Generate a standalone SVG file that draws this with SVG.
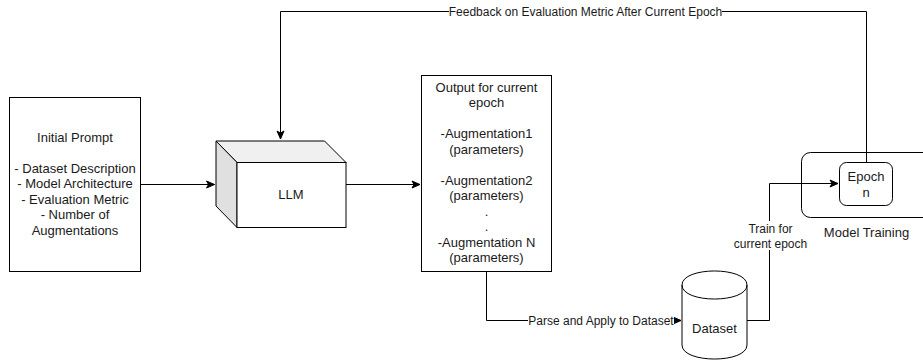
<svg xmlns="http://www.w3.org/2000/svg" width="923" height="360" viewBox="0 0 923 360">
<defs>
<marker id="arr" markerWidth="10" markerHeight="10" refX="9" refY="5" orient="auto" markerUnits="userSpaceOnUse">
<path d="M1,1.5 L9,5 L1,8.5 L3,5 Z" fill="#000" stroke="#000" stroke-width="1"/>
</marker>
</defs>
<style>
.box{fill:#fff;stroke:#000;stroke-width:1}
.t{font-family:"Liberation Sans",Arial,sans-serif;font-size:13px;fill:#1a1a1a;text-anchor:middle}
.l{font-family:"Liberation Sans",Arial,sans-serif;font-size:12px;fill:#1a1a1a;text-anchor:middle}
.c{fill:none;stroke:#000;stroke-width:1}
.bg{fill:#fff}
</style>
<rect width="923" height="360" fill="#fff"/>

<g id="model-training">
<rect class="box" x="801.5" y="152.5" width="135" height="65" rx="9"/>
<text class="t" x="866.5" y="236.5">Model Training</text>
</g>

<g id="connectors">
<path class="c" d="M866.5,162.5 V11.5 H280.5 V139" marker-end="url(#arr)"/>
<rect class="bg" x="449" y="4" width="273" height="14"/>
<text class="l" x="585.5" y="15.5">Feedback on Evaluation Metric After Current Epoch</text>
<path class="c" d="M140.5,184.5 H214.5" marker-end="url(#arr)"/>
<path class="c" d="M346,184.5 H420" marker-end="url(#arr)"/>
<path class="c" d="M486.5,271 V320.5 H681" marker-end="url(#arr)"/>
<rect class="bg" x="528" y="314" width="146" height="13"/>
<text class="l" x="601" y="324.5">Parse and Apply to Dataset</text>
<path class="c" d="M747,320.5 H769.5 V183.5 H838" marker-end="url(#arr)"/>
<rect class="bg" x="733" y="221" width="75" height="29"/>
<text class="l" x="770.5" y="232.5">Train for</text>
<text class="l" x="770.5" y="247.5">current epoch</text>
</g>

<g id="initial-prompt">
<rect class="box" x="9.5" y="97.5" width="131" height="174"/>
<text class="t" x="75" y="141.5">Initial Prompt</text>
<text class="t" x="75" y="172.5">- Dataset Description</text>
<text class="t" x="75" y="188">- Model Architecture</text>
<text class="t" x="75" y="203.5">- Evaluation Metric</text>
<text class="t" x="75" y="219">- Number of</text>
<text class="t" x="75" y="234.5">Augmentations</text>
</g>

<g id="llm">
<polygon points="216,141 324.5,141 346,162.5 237,162.5" fill="#f0f0f0" stroke="#000" stroke-width="1"/>
<polygon points="216,141 237,162.5 237,227.5 216,206" fill="#e0e0e0" stroke="#000" stroke-width="1"/>
<rect class="box" x="237" y="162.5" width="109" height="65"/>
<text class="t" x="291" y="198.5">LLM</text>
</g>

<g id="output">
<rect class="box" x="421.5" y="75.5" width="130" height="196"/>
<text class="t" x="486.5" y="91.5">Output for current</text>
<text class="t" x="486.5" y="107">epoch</text>
<text class="t" x="486.5" y="138">-Augmentation1</text>
<text class="t" x="486.5" y="153.5">(parameters)</text>
<text class="t" x="486.5" y="184.5">-Augmentation2</text>
<text class="t" x="486.5" y="200">(parameters)</text>
<text class="t" x="486.5" y="215.5">.</text>
<text class="t" x="486.5" y="231">.</text>
<text class="t" x="486.5" y="246.5">-Augmentation N</text>
<text class="t" x="486.5" y="262">(parameters)</text>
</g>

<g id="dataset">
<path class="box" d="M682,285 C682,266.3 747,266.3 747,285 V345 C747,363.7 682,363.7 682,345 Z"/>
<path class="c" d="M682,285 C682,303.7 747,303.7 747,285"/>
<text class="t" x="714.5" y="332.5">Dataset</text>
</g>

<g id="epoch">
<rect class="box" x="839.5" y="162.5" width="53" height="43" rx="7"/>
<text class="t" x="866" y="180.5">Epoch</text>
<text class="t" x="866" y="197">n</text>
</g>
</svg>
